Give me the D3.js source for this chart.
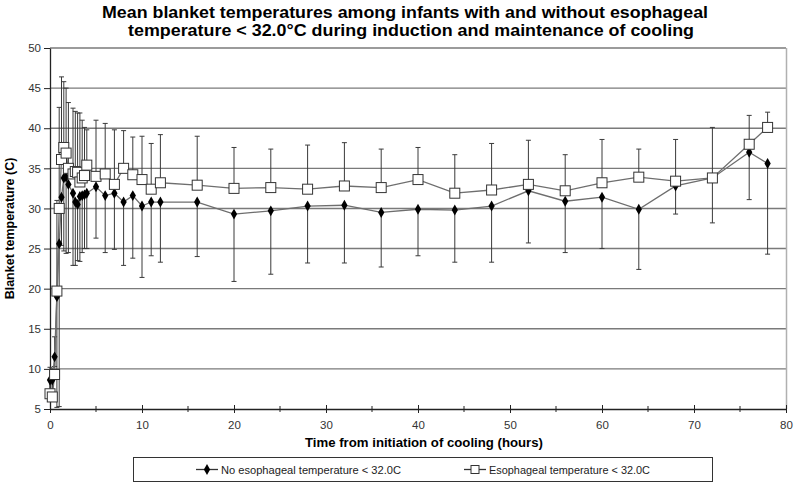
<!DOCTYPE html>
<html><head><meta charset="utf-8">
<script src="https://cdn.jsdelivr.net/npm/d3@7"></script>
<style>body{margin:0;background:#fff}svg{display:block}</style>
</head><body><svg id="c" width="800" height="487"></svg>
<script>
const hours = [0,0.25,0.5,0.75,1,1.25,1.5,1.75,2,2.5,2.75,3,3.25,3.5,3.75,4,5,6,7,8,9,10,11,12,16,20,24,28,32,36,40,44,48,52,56,60,64,68,72,76,78];
// Esophageal temperature < 32.0C (open squares), upper error
const esoMean = [6.9,6.5,9.3,19.7,30.0,36.1,37.6,36.9,35.0,34.3,34.6,34.5,33.3,33.8,34.1,35.4,34.0,34.3,33.0,35.0,34.2,33.6,32.4,33.2,32.9,32.5,32.6,32.4,32.8,32.6,33.6,31.9,32.3,33.0,32.2,33.2,33.9,33.4,33.8,38.0,40.1];
const esoErr  = [3.3,3.5,4.7,11.3,12.6,10.3,8.2,8.1,8.2,8.2,7.5,7.4,8.6,7.2,6.0,4.4,7.0,6.3,6.8,4.7,4.7,5.4,5.7,6.0,6.1,5.1,4.8,5.5,5.4,4.8,4.0,4.8,5.8,5.5,4.5,5.4,3.5,5.2,6.3,3.6,1.9];
// No esophageal temperature < 32.0C (filled diamonds), lower error
const noMean = [8.6,8.6,11.5,19.0,25.6,31.4,33.8,33.9,33.0,31.9,30.8,30.5,31.5,31.6,31.7,31.9,32.7,31.6,31.9,30.8,31.6,30.3,30.8,30.8,30.8,29.3,29.7,30.3,30.4,29.5,29.9,29.8,30.3,32.2,30.9,31.4,29.9,32.8,33.8,37.0,35.6];
const noErr  = [1.5,1.6,1.2,13.8,20.3,6.0,9.1,9.5,8.5,9.0,7.9,7.0,8.1,7.1,6.7,6.9,6.4,7.1,7.0,7.9,7.8,8.9,6.7,7.5,6.8,8.4,7.9,7.1,7.2,6.8,5.8,6.5,7.0,6.5,6.4,6.4,7.5,3.5,5.6,5.9,11.3];
const yTicks = [5,10,15,20,25,30,35,40,45,50];
const xTicks = [0,10,20,30,40,50,60,70,80];
const xMinor = [5,15,25,35,45,55,65,75];
const titleLines = ["Mean blanket temperatures among infants with and without esophageal","temperature < 32.0\u00B0C during induction and maintenance of cooling"];
const seriesNames = ["No esophageal temperature < 32.0C","Esophageal temperature < 32.0C"];

const svg = d3.select("#c");
const font = "'Liberation Sans', Arial, sans-serif";
const x = d3.scaleLinear().domain([0,80]).range([50,786]);
const y = d3.scaleLinear().domain([5,50]).range([409,48]);

// title
const titleLayout = [{cx:405, w:606},{cx:411, w:566}];
svg.append("g").selectAll("text").data(titleLines).join("text")
  .attr("x",(d,i)=> titleLayout[i].cx).attr("y",(d,i)=>18+i*18)
  .attr("text-anchor","middle").attr("font-family",font).attr("font-weight","bold")
  .attr("font-size",17).attr("fill","#000")
  .attr("textLength",(d,i)=>titleLayout[i].w).attr("lengthAdjust","spacingAndGlyphs").text(d=>d);

// gridlines
svg.append("g").selectAll("line").data(yTicks.filter(v=>v>5)).join("line")
  .attr("x1",x(0)).attr("x2",x(80)).attr("y1",d=>y(d)).attr("y2",d=>y(d))
  .attr("stroke","#7a7a7a").attr("stroke-width",1.4);
// right border
svg.append("line").attr("x1",x(80)+0.5).attr("x2",x(80)+0.5).attr("y1",y(50)).attr("y2",y(5))
  .attr("stroke","#b0b0b0").attr("stroke-width",1.5);

// axes
const yAxis = d3.axisLeft(y).tickValues(yTicks).tickSize(6).tickSizeOuter(0).tickPadding(3);
const gy = svg.append("g").attr("transform",`translate(${x(0)},0)`).call(yAxis);
const xAxis = d3.axisBottom(x).tickValues(xTicks).tickSize(4).tickSizeOuter(0).tickPadding(8);
const gx = svg.append("g").attr("transform",`translate(0,${y(5)})`).call(xAxis);
[gy,gx].forEach(g=>{
  g.select(".domain").attr("stroke","#222").attr("stroke-width",1.3);
  g.selectAll(".tick line").attr("stroke","#222");
  g.selectAll(".tick text").attr("font-family",font).attr("font-size",11.5).attr("fill","#333");
});
gx.selectAll(".tick line").attr("y1",-4);
gx.append("g").selectAll("line").data(xMinor).join("line")
  .attr("x1",d=>x(d)).attr("x2",d=>x(d)).attr("y1",-3).attr("y2",3).attr("stroke","#222");

// axis titles
svg.append("text").attr("transform",`translate(14,${(y(5)+y(50))/2}) rotate(-90)`)
  .attr("text-anchor","middle").attr("font-family",font).attr("font-weight","bold")
  .attr("font-size",12.5).attr("fill","#000").text("Blanket temperature (C)");
svg.append("text").attr("x",424).attr("y",447).attr("text-anchor","middle")
  .attr("font-family",font).attr("font-weight","bold").attr("font-size",13).attr("fill","#000")
  .attr("textLength",238).attr("lengthAdjust","spacingAndGlyphs")
  .text("Time from initiation of cooling (hours)");

const esoData = hours.map((h,i)=>({h, m:esoMean[i], e:esoErr[i]}));
const noData = hours.map((h,i)=>({h, m:noMean[i], e:noErr[i]}));

// error bars
function errBars(data, sign){
  const g = svg.append("g").attr("stroke","#3a3a3a").attr("stroke-width",1);
  g.selectAll("line.v").data(data).join("line").attr("class","v")
    .attr("x1",d=>x(d.h)).attr("x2",d=>x(d.h)).attr("y1",d=>y(d.m)).attr("y2",d=>y(d.m+sign*d.e));
  g.selectAll("line.c").data(data).join("line").attr("class","c")
    .attr("x1",d=>x(d.h)-2.5).attr("x2",d=>x(d.h)+2.5).attr("y1",d=>y(d.m+sign*d.e)).attr("y2",d=>y(d.m+sign*d.e));
}
errBars(noData,-1);
errBars(esoData,1);

const line = d3.line().x(d=>x(d.h)).y(d=>y(d.m));
svg.append("path").datum(noData).attr("d",line).attr("fill","none").attr("stroke","#6e6e6e").attr("stroke-width",1.3);
svg.append("path").datum(esoData).attr("d",line).attr("fill","none").attr("stroke","#6e6e6e").attr("stroke-width",1.3);

const diamond = d3.symbol().type(d3.symbolDiamond).size(34);
svg.append("g").selectAll("path").data(noData).join("path")
  .attr("transform",d=>`translate(${x(d.h)},${y(d.m)})`).attr("d",diamond).attr("fill","#000");
svg.append("g").selectAll("rect").data(esoData).join("rect")
  .attr("x",d=>x(d.h)-5).attr("y",d=>y(d.m)-5).attr("width",10).attr("height",10)
  .attr("fill","#fff").attr("stroke","#333").attr("stroke-width",1);

// legend
const lg = svg.append("g");
lg.append("rect").attr("x",133.5).attr("y",457.5).attr("width",579).attr("height",24)
  .attr("fill","#fff").attr("stroke","#333").attr("stroke-width",1);
const items = [{name:seriesNames[0], x0:196, tx:221, w:180, type:"d"},{name:seriesNames[1], x0:464, tx:489, w:161, type:"s"}];
items.forEach(it=>{
  lg.append("line").attr("x1",it.x0).attr("x2",it.x0+22).attr("y1",469.5).attr("y2",469.5).attr("stroke","#333").attr("stroke-width",1.3);
  if(it.type==="d") lg.append("path").attr("transform",`translate(${it.x0+11},469.5)`).attr("d",diamond).attr("fill","#000");
  else lg.append("rect").attr("x",it.x0+7).attr("y",465.5).attr("width",8).attr("height",8).attr("fill","#fff").attr("stroke","#333");
  lg.append("text").attr("x",it.tx).attr("y",473.5).attr("font-family",font).attr("font-size",11).attr("fill","#222")
    .attr("textLength",it.w).attr("lengthAdjust","spacingAndGlyphs").text(it.name);
});
</script></body></html>
